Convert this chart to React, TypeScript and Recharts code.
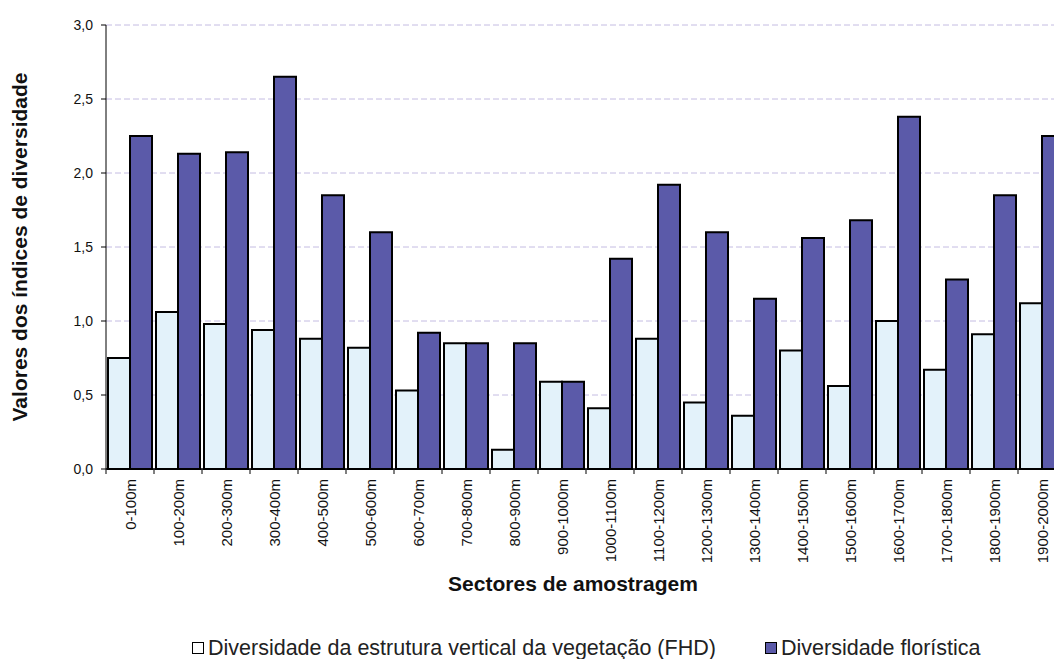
import React from "react";
import { BarChart, Bar, XAxis, YAxis, CartesianGrid, Label } from "recharts";

const sectors = [
  "0-100m", "100-200m", "200-300m", "300-400m", "400-500m",
  "500-600m", "600-700m", "700-800m", "800-900m", "900-1000m",
  "1000-1100m", "1100-1200m", "1200-1300m", "1300-1400m", "1400-1500m",
  "1500-1600m", "1600-1700m", "1700-1800m", "1800-1900m", "1900-2000m",
];

const fhd = [
  0.75, 1.06, 0.98, 0.94, 0.88, 0.82, 0.53, 0.85, 0.13, 0.59,
  0.41, 0.88, 0.45, 0.36, 0.8, 0.56, 1.0, 0.67, 0.91, 1.12,
];

const floristica = [
  2.25, 2.13, 2.14, 2.65, 1.85, 1.6, 0.92, 0.85, 0.85, 0.59,
  1.42, 1.92, 1.6, 1.15, 1.56, 1.68, 2.38, 1.28, 1.85, 2.25,
];

const yTicks = [0, 0.5, 1, 1.5, 2, 2.5, 3];

const seriesNames = [
  "Diversidade da estrutura vertical da vegetação (FHD)",
  "Diversidade florística",
];

const LIGHT = "#e3f2fa";
const PURPLE = "#5b5aa9";
const FONT = "'Liberation Sans', Arial, sans-serif";

const data = sectors.map((s, i) => ({ sector: s, fhd: fhd[i], flor: floristica[i] }));

const CAT_W = 48;

const SectorTick = (props: any) => {
  const { x, y, payload } = props;
  return (
    <g>
      <line x1={x - CAT_W / 2} x2={x - CAT_W / 2} y1={y - 8} y2={y - 3} stroke="#000" strokeWidth={1} />
      {payload.index === sectors.length - 1 && (
        <line x1={x + CAT_W / 2} x2={x + CAT_W / 2} y1={y - 8} y2={y - 3} stroke="#000" strokeWidth={1} />
      )}
      <text
        x={x}
        y={y + 2}
        transform={`rotate(-90, ${x}, ${y + 2})`}
        textAnchor="end"
        dominantBaseline="central"
        fontSize={15}
        fontFamily={FONT}
        fill="#111"
      >
        {payload.value}
      </text>
    </g>
  );
};

export default function App() {
  return (
    <div style={{ position: "relative", height: 651 }}>
      <BarChart
        width={1058}
        height={600}
        data={data}
        margin={{ top: 17, right: 0, left: 0, bottom: 0 }}
        barCategoryGap={2}
        barGap={0}
      >
        <CartesianGrid vertical={false} stroke="#c4bce2" strokeDasharray="6 3" />
        <XAxis
          dataKey="sector"
          interval={0}
          height={139}
          tickLine={false}
          axisLine={{ stroke: "#000", strokeWidth: 1.5 }}
          tick={<SectorTick />}
        >
          <Label
            value="Sectores de amostragem"
            position="insideBottom"
            offset={17}
            dx={-13}
            style={{ fontFamily: FONT, fontSize: 21, fontWeight: "bold", fill: "#111" }}
          />
        </XAxis>
        <YAxis
          domain={[0, 3]}
          ticks={yTicks}
          width={98}
          tickSize={5}
          tickMargin={8}
          tickFormatter={(v: number) => v.toFixed(1).replace(".", ",")}
          tick={{ fontSize: 14, fontFamily: FONT, fill: "#111" }}
          axisLine={{ stroke: "#000", strokeWidth: 1 }}
          tickLine={{ stroke: "#000" }}
        >
          <Label
            value="Valores dos índices de diversidade"
            angle={-90}
            position="insideLeft"
            offset={12}
            style={{ textAnchor: "middle", fontFamily: FONT, fontSize: 21, fontWeight: "bold", fill: "#111" }}
          />
        </YAxis>
        <Bar dataKey="fhd" name={seriesNames[0]} fill={LIGHT} stroke="#000" strokeWidth={2} isAnimationActive={false} />
        <Bar dataKey="flor" name={seriesNames[1]} fill={PURPLE} stroke="#000" strokeWidth={2} isAnimationActive={false} />
      </BarChart>
      <div
        style={{
          position: "absolute",
          top: 629,
          left: 0,
          width: 1040,
          fontFamily: FONT,
          fontSize: 21.5,
          lineHeight: "22px",
          color: "#222",
          whiteSpace: "nowrap",
        }}
      >
        <span style={{ position: "absolute", left: 184, display: "flex", alignItems: "center" }}>
          <span style={{ display: "inline-block", width: 10, height: 10, border: "1.5px solid #000", background: "#fff", marginRight: 4 }} />
          {seriesNames[0]}
        </span>
        <span style={{ position: "absolute", left: 757, display: "flex", alignItems: "center" }}>
          <span style={{ display: "inline-block", width: 10, height: 10, border: "1.5px solid #000", background: PURPLE, marginRight: 4 }} />
          {seriesNames[1]}
        </span>
      </div>
    </div>
  );
}
